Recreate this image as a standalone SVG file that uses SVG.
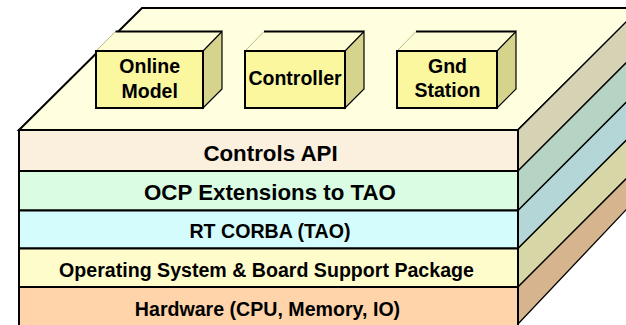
<svg xmlns="http://www.w3.org/2000/svg" width="626" height="325" viewBox="0 0 626 325">
<style>
text{font-family:"Liberation Sans",Arial,sans-serif;font-weight:bold;fill:#000;text-anchor:middle}
.lay{font-size:19.6px}
.big{font-size:22.3px}
.bx{font-size:19.5px}
.edge{stroke:#000;stroke-width:2;fill:none}
.side{stroke:#000;stroke-width:1.3}
.bfront{fill:#FBF79F;stroke:#000;stroke-width:2}
.bside{fill:#D5D38C;stroke:#000;stroke-width:1.2}
.btop{fill:#FFFDD6;stroke:none}
</style>
<rect width="626" height="325" fill="#fff"/>
<g id="platform">
  <polygon points="19,130 142,8 641,8 518,130" fill="#FFFFE0" stroke="#000" stroke-width="2"/>
  <polygon class="side" points="518,130 641,7 641,48 518,171" fill="#D5D3B4"/>
  <polygon class="side" points="518,171 641,48 641,87.5 518,210.5" fill="#B6D4C3"/>
  <polygon class="side" points="518,210.5 641,87.5 641,125.5 518,248.5" fill="#B4D6D6"/>
  <polygon class="side" points="518,248.5 641,125.5 641,164 518,287" fill="#D6D6A6"/>
  <polygon class="side" points="518,287 641,164 641,194 518,324" fill="#D6B48E"/>
</g>
<g id="layer-controls-api">
  <rect x="19" y="130" width="499" height="41" fill="#FBF0DE" stroke="#000" stroke-width="2"/>
  <text class="big" x="270.5" y="161">Controls API</text>
</g>
<g id="layer-ocp">
  <rect x="19" y="171" width="499" height="39.5" fill="#D9FCE3" stroke="#000" stroke-width="2"/>
  <text class="big" x="270" y="199.5">OCP Extensions to TAO</text>
</g>
<g id="layer-rtcorba">
  <rect x="19" y="210.5" width="499" height="38" fill="#D4FCFC" stroke="#000" stroke-width="2"/>
  <text class="lay" x="270" y="238.3">RT CORBA (TAO)</text>
</g>
<g id="layer-os">
  <rect x="19" y="248.5" width="499" height="38.5" fill="#FFFCCC" stroke="#000" stroke-width="2"/>
  <text class="lay" x="266.5" y="276.7">Operating System &amp; Board Support Package</text>
</g>
<g id="layer-hardware">
  <rect x="19" y="287" width="499" height="40" fill="#FFD4AA" stroke="#000" stroke-width="2"/>
  <text class="lay" x="267.5" y="315.7">Hardware (CPU, Memory, IO)</text>
</g>
<g id="box-online-model">
  <polygon class="btop" points="96,51 115.5,31.5 222,31.5 203,51"/>
  <line x1="96" y1="51" x2="115.5" y2="31.5" stroke="#B8B888" stroke-width="1"/>
  <line x1="115.5" y1="31.5" x2="222" y2="31.5" class="edge" stroke-width="2.5"/>
  <polygon class="bside" points="203,51 222,31.5 222,89 203,108"/>
  <rect class="bfront" x="96" y="51" width="107" height="57"/>
  <text class="bx" x="149.7" y="73.3">Online</text>
  <text class="bx" x="149.7" y="97.5">Model</text>
</g>
<g id="box-controller">
  <polygon class="btop" points="245,51 264,31.5 364,31.5 345,51"/>
  <line x1="245" y1="51" x2="264" y2="31.5" stroke="#B8B888" stroke-width="1"/>
  <line x1="264" y1="31.5" x2="364" y2="31.5" class="edge" stroke-width="2.5"/>
  <polygon class="bside" points="345,51 364,31.5 364,89 345,108"/>
  <rect class="bfront" x="245" y="51" width="100" height="57"/>
  <text class="bx" x="295" y="85">Controller</text>
</g>
<g id="box-gnd-station">
  <polygon class="btop" points="397,51 416,31.5 516,31.5 497,51"/>
  <line x1="397" y1="51" x2="416" y2="31.5" stroke="#B8B888" stroke-width="1"/>
  <line x1="416" y1="31.5" x2="516" y2="31.5" class="edge" stroke-width="2.5"/>
  <polygon class="bside" points="497,51 516,31.5 516,89 497,108"/>
  <rect class="bfront" x="397" y="51" width="100" height="57"/>
  <text class="bx" x="447.5" y="73.3">Gnd</text>
  <text class="bx" x="447.5" y="96.7">Station</text>
</g>
<g id="connectors"></g>
</svg>
